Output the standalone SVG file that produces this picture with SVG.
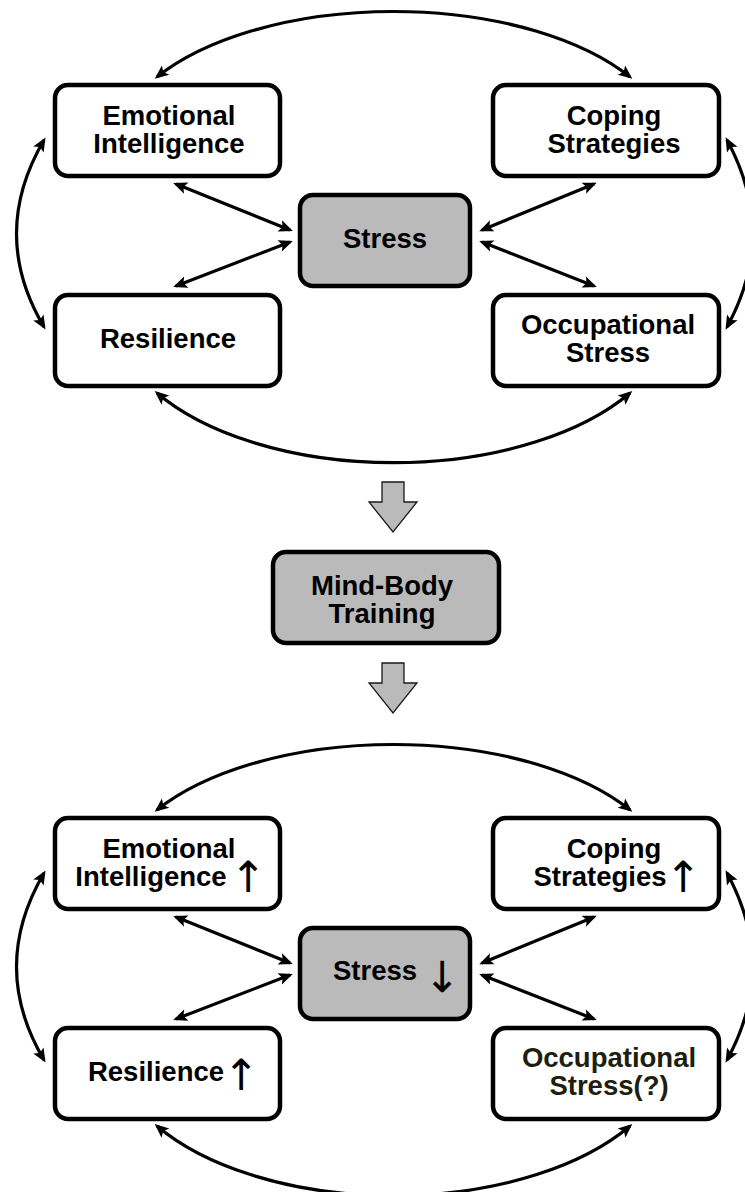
<svg xmlns="http://www.w3.org/2000/svg" width="745" height="1192" viewBox="0 0 745 1192">
<defs>
<style>
.box{fill:#ffffff;stroke:#000;stroke-width:4.5}
.gbox{fill:#bababa;stroke:#000;stroke-width:4.5}
.lbl{font-family:"Liberation Sans",Arial,sans-serif;font-weight:bold;font-size:27.5px;fill:#000;text-anchor:middle}
.olive{fill:#1e1e0e}
.arr{font-family:"DejaVu Sans","Liberation Sans",sans-serif;font-weight:normal;font-size:43px;fill:#000;text-anchor:middle}
.con{fill:none;stroke:#000;stroke-width:3.2;marker-start:url(#ah);marker-end:url(#ah)}
.blk{fill:#bababa;stroke:#1a1a1a;stroke-width:1.3}
</style>
<marker id="ah" viewBox="-13 -7 17 14" refX="0" refY="0" markerWidth="17" markerHeight="14" markerUnits="userSpaceOnUse" orient="auto-start-reverse">
<path d="M3,0 L-11,-6 L-8,0 L-11,6 Z" fill="#000"/>
</marker>
</defs>

<g id="connectors">
<!-- top section -->
<path class="con" d="M157,77 A280 141 0 0 1 630,77"/>
<path class="con" d="M157,393 A280 150 0 0 0 630,393"/>
<path class="con" d="M44,140 Q-11,234 44,327"/>
<path class="con" d="M727,140 Q778,234 727,327"/>
<path class="con" d="M176,184 L290,230"/>
<path class="con" d="M176,286 L290,242"/>
<path class="con" d="M594,184 L482,230"/>
<path class="con" d="M594,286 L482,242"/>
<!-- bottom section -->
<path class="con" d="M157,810 A280 141 0 0 1 630,810"/>
<path class="con" d="M157,1126 A280 150 0 0 0 630,1126"/>
<path class="con" d="M44,873 Q-11,967 44,1060"/>
<path class="con" d="M727,873 Q778,967 727,1060"/>
<path class="con" d="M176,917 L290,963"/>
<path class="con" d="M176,1019 L290,975"/>
<path class="con" d="M594,917 L482,963"/>
<path class="con" d="M594,1019 L482,975"/>
<!-- block arrows -->
<path class="blk" d="M382,482 L404,482 L404,502 L417,502 L393,532 L369,502 L382,502 Z"/>
<path class="blk" d="M382,663 L404,663 L404,683 L417,683 L393,713 L369,683 L382,683 Z"/>
</g>

<!-- top section nodes -->
<g id="ei1">
<rect class="box" x="55" y="85" width="225" height="91" rx="13"/>
<text class="lbl" x="169" y="125">Emotional</text>
<text class="lbl" x="169" y="153">Intelligence</text>
</g>
<g id="cs1">
<rect class="box" x="493" y="85" width="226" height="91" rx="13"/>
<text class="lbl" x="614" y="125">Coping</text>
<text class="lbl" x="614" y="153">Strategies</text>
</g>
<g id="stress1">
<rect class="gbox" x="300" y="195" width="170" height="91" rx="13"/>
<text class="lbl" x="385" y="248">Stress</text>
</g>
<g id="res1">
<rect class="box" x="55" y="295" width="225" height="91" rx="13"/>
<text class="lbl" x="168" y="348">Resilience</text>
</g>
<g id="os1">
<rect class="box" x="493" y="295" width="226" height="91" rx="13"/>
<text class="lbl" x="608" y="334">Occupational</text>
<text class="lbl" x="608" y="362">Stress</text>
</g>

<g id="mbt">
<rect class="gbox" x="273" y="552" width="226" height="91" rx="13"/>
<text class="lbl" x="382" y="595">Mind-Body</text>
<text class="lbl" x="382" y="623">Training</text>
</g>

<!-- bottom section nodes -->
<g id="ei2">
<rect class="box" x="55" y="818" width="225" height="91" rx="13"/>
<text class="lbl" x="169" y="858">Emotional</text>
<text class="lbl" x="151" y="886">Intelligence</text>
<text class="arr" x="248" y="892">↑</text>
</g>
<g id="cs2">
<rect class="box" x="493" y="818" width="226" height="91" rx="13"/>
<text class="lbl" x="614" y="858">Coping</text>
<text class="lbl" x="600" y="886">Strategies</text>
<text class="arr" x="683" y="892">↑</text>
</g>
<g id="stress2">
<rect class="gbox" x="300" y="928" width="170" height="91" rx="13"/>
<text class="lbl" x="375" y="980">Stress</text>
<text class="arr" x="442" y="992">↓</text>
</g>
<g id="res2">
<rect class="box" x="55" y="1028" width="225" height="91" rx="13"/>
<text class="lbl" x="156" y="1081">Resilience</text>
<text class="arr" x="241" y="1090">↑</text>
</g>
<g id="os2">
<rect class="box" x="493" y="1028" width="226" height="91" rx="13"/>
<text class="lbl olive" x="609" y="1067">Occupational</text>
<text class="lbl olive" x="609" y="1095">Stress(?)</text>
</g>
</svg>
